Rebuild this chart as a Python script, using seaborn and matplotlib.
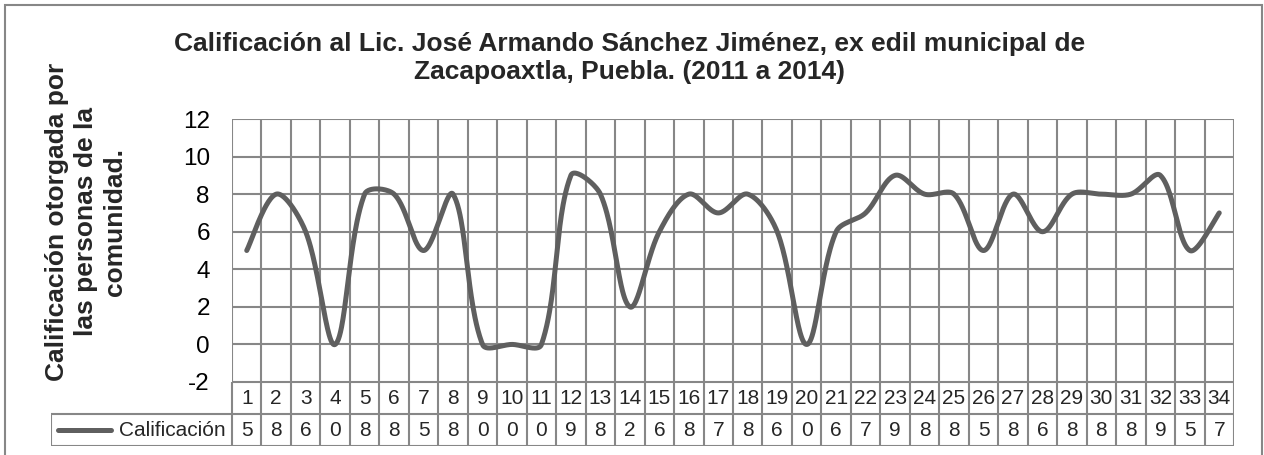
import numpy as np
import pandas as pd
import matplotlib
matplotlib.use("Agg")
import matplotlib.pyplot as plt
import seaborn as sns

# ---- data ----
categories = list(range(1, 35))
calificacion = [5, 8, 6, 0, 8, 8, 5, 8, 0, 0, 0, 9, 8, 2, 6, 8, 7, 8, 6, 0,
                6, 7, 9, 8, 8, 5, 8, 6, 8, 8, 8, 9, 5, 7]
series_name = "Calificación"
y_ticks = [-2, 0, 2, 4, 6, 8, 10, 12]
title = ("Calificación al Lic. José Armando Sánchez Jiménez, ex edil municipal de\n"
         "Zacapoaxtla, Puebla. (2011 a 2014)")
y_label = "Calificación otorgada por\nlas personas de la\ncomunidad."

sns.set_theme(style="white")
plt.rcParams['font.family'] = ['Liberation Sans', 'DejaVu Sans']

GRID = "#878787"
LINE = "#5f5f5f"

W, H = 1264, 455
fig = plt.figure(figsize=(W / 100, H / 100), dpi=100)


def fx(px):
    return px / W


def fy(py):
    return 1 - py / H


# outer chart border
fig.patches.append(plt.Rectangle((fx(5), fy(470)), fx(1262) - fx(5), fy(5) - fy(470),
                                 transform=fig.transFigure, fill=False,
                                 edgecolor=GRID, linewidth=1.5))

# main plot area
L, R, T, B = 232, 1234, 119, 382
ax = fig.add_axes([fx(L), fy(B), fx(R) - fx(L), fy(T) - fy(B)])

# Excel-like smoothed line (bezier through the data points, tangents scaled
# by neighbouring segment lengths in screen space)
x = np.array(categories, dtype=float)
y = np.array(calificacion, dtype=float)
sx = (R - L) / 34.0          # px per category
sy = (B - T) / 14.0          # px per y unit
px = np.concatenate([[x[0]], x, [x[-1]]])
py = np.concatenate([[y[0]], y, [y[-1]]])


def dist(a, b):
    return np.hypot((a[0] - b[0]) * sx, (a[1] - b[1]) * sy)


t = np.linspace(0, 1, 50)
xs, ys = [], []
for i in range(len(x) - 1):
    p1 = np.array([x[i], y[i]])
    p2 = np.array([x[i + 1], y[i + 1]])
    p0 = np.array([px[i], py[i]])
    p3 = np.array([px[i + 3], py[i + 3]])
    d01, d12, d23 = dist(p0, p1), dist(p1, p2), dist(p2, p3)
    f1 = (1 / 3) * d12 / (d01 + d12) if d01 > 0 else 1 / 6
    f2 = (1 / 3) * d12 / (d12 + d23) if d23 > 0 else 1 / 6
    c1 = p1 + (p2 - p0) * f1
    c2 = p2 - (p3 - p1) * f2
    seg = ((1 - t) ** 3)[:, None] * p1 + (3 * (1 - t) ** 2 * t)[:, None] * c1 \
        + (3 * (1 - t) * t ** 2)[:, None] * c2 + (t ** 3)[:, None] * p2
    xs.extend(seg[:, 0])
    ys.extend(seg[:, 1])
df = pd.DataFrame({"x": xs, "y": ys})
sns.lineplot(data=df, x="x", y="y", sort=False, estimator=None, color=LINE,
             linewidth=3.6, ax=ax, zorder=3, solid_capstyle="round")

ax.set_xlim(0.5, 34.5)
ax.set_ylim(-2, 12)
ax.set_yticks(y_ticks)
ax.set_yticklabels([str(v) for v in y_ticks], fontsize=17.5)
ax.set_xticks([])
ax.tick_params(axis="y", length=0, pad=16, colors="black")
for v in y_ticks:
    ax.axhline(v, color=GRID, linewidth=1.5, zorder=1)
for v in np.arange(0.5, 35.0, 1.0):
    ax.axvline(v, color=GRID, linewidth=1.5, zorder=1)
for s in ax.spines.values():
    s.set_visible(False)
ax.set_xlabel("")
ax.set_ylabel("")

# data table below the plot
TB = 446
x0 = 0.5 - (L - 51) / sx
tab = fig.add_axes([fx(51), fy(TB), fx(R) - fx(51), fy(B) - fy(TB)])
tab.set_xlim(x0, 34.5)
tab.set_ylim(0, 2)
tab.axis("off")
tab.plot([0.5, 34.5], [2, 2], color=GRID, lw=1.5)
tab.plot([x0, 34.5], [1, 1], color=GRID, lw=1.5)
tab.plot([x0, 34.5], [0, 0], color=GRID, lw=1.5)
tab.plot([x0, x0], [0, 1], color=GRID, lw=1.5)
for v in np.arange(0.5, 35.0, 1.0):
    tab.plot([v, v], [0, 2], color=GRID, lw=1.5)
for c, val in zip(categories, calificacion):
    tab.text(c, 1.5, str(c), ha="center", va="center", fontsize=15)
    tab.text(c, 0.5, str(val), ha="center", va="center", fontsize=15)
# legend key in table
tab.plot([x0 + 0.25, x0 + 2.05], [0.5, 0.5], color=LINE, lw=3.6, solid_capstyle="round")
tab.text(0.27, 0.5, series_name, ha="right", va="center", fontsize=15)

# title and y label
fig.text(fx(630), fy(58), title, ha="center", va="center", fontsize=19,
         fontweight="bold", linespacing=1.2)
fig.text(fx(86), fy(222), y_label, ha="center", va="center", fontsize=19,
         fontweight="bold", rotation=90, linespacing=1.25)

fig.savefig("out.png", dpi=100)
